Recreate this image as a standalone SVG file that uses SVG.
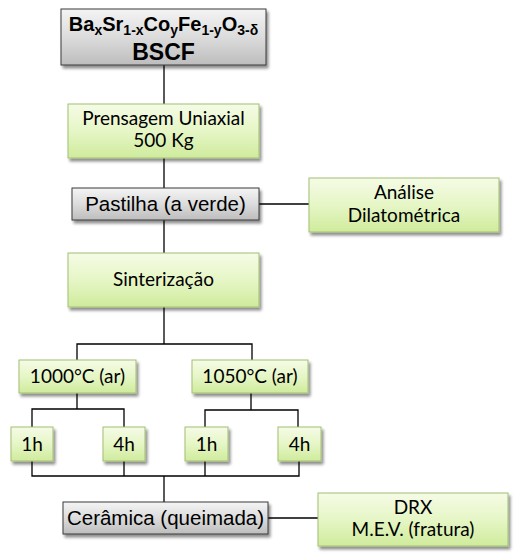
<svg xmlns="http://www.w3.org/2000/svg" width="519" height="555" viewBox="0 0 519 555">
<defs>
<linearGradient id="gGreen" x1="0" y1="0" x2="0" y2="1">
<stop offset="0" stop-color="#f5fbe6"/>
<stop offset="0.5" stop-color="#e6f6c6"/>
<stop offset="1" stop-color="#cfeb9c"/>
</linearGradient>
<linearGradient id="gGray" x1="0" y1="0" x2="0" y2="1">
<stop offset="0" stop-color="#f4f4f4"/>
<stop offset="0.5" stop-color="#dcdcdc"/>
<stop offset="1" stop-color="#bdbdbd"/>
</linearGradient>
<filter id="sh" x="-10%" y="-20%" width="130%" height="160%">
<feGaussianBlur in="SourceAlpha" stdDeviation="1.6"/>
<feOffset dx="2" dy="3" result="b"/>
<feComponentTransfer><feFuncA type="linear" slope="0.45"/></feComponentTransfer>
<feMerge><feMergeNode/><feMergeNode in="SourceGraphic"/></feMerge>
</filter>
</defs>
<style>
.green{fill:url(#gGreen);stroke:#a3bf74;stroke-width:1;filter:url(#sh)}
.gray{fill:url(#gGray);stroke:#3a3a3a;stroke-width:1;filter:url(#sh)}
.tg{font-family:Lato,"Liberation Sans",sans-serif;font-size:19px;fill:#000;text-anchor:middle}
.tk{font-family:"Liberation Sans",Arial,sans-serif;font-size:20.5px;fill:#000;text-anchor:middle}
.tb{font-family:"Liberation Sans",Arial,sans-serif;font-weight:bold;fill:#000;text-anchor:middle}
.con{fill:none;stroke:#000;stroke-width:1.3}
</style>
<rect width="519" height="555" fill="#fff"/>
<g id="connectors" class="con">
<path d="M164 65V104"/>
<path d="M164 158V188"/>
<path d="M259 204H309"/>
<path d="M164 220V253"/>
<path d="M164 307V344"/>
<path d="M77 360V344H252V360"/>
<path d="M77 393V409"/>
<path d="M32 427V409H124V427"/>
<path d="M251 393V410"/>
<path d="M205 427V410H298V427"/>
<path d="M32 461V476H299V461"/>
<path d="M124 461V476"/>
<path d="M205 461V476"/>
<path d="M164 476V502"/>
<path d="M268 518H318"/>
</g>
<g id="n_bscf">
<rect class="gray" x="61" y="9" width="205" height="56"/>
<text class="tb" x="163.5" y="31" font-size="20">Ba<tspan font-size="14" dy="4">x</tspan><tspan dy="-4">Sr</tspan><tspan font-size="14" dy="4">1-x</tspan><tspan dy="-4">Co</tspan><tspan font-size="14" dy="4">y</tspan><tspan dy="-4">Fe</tspan><tspan font-size="14" dy="4">1-y</tspan><tspan dy="-4">O</tspan><tspan font-size="14" dy="4">3-δ</tspan></text>
<text class="tb" x="163.5" y="60" font-size="23">BSCF</text>
</g>
<g id="n_prensagem">
<rect class="green" x="68" y="104" width="191" height="54"/>
<text class="tg" x="163.5" y="125">Prensagem Uniaxial</text>
<text class="tg" x="163.5" y="147">500 Kg</text>
</g>
<g id="n_pastilha">
<rect class="gray" x="72" y="188" width="187" height="32"/>
<text class="tk" x="165.5" y="211">Pastilha (a verde)</text>
</g>
<g id="n_analise">
<rect class="green" x="309" y="178" width="190" height="54"/>
<text class="tg" x="404" y="199">Análise</text>
<text class="tg" x="404" y="222">Dilatométrica</text>
</g>
<g id="n_sinterizacao">
<rect class="green" x="68" y="253" width="191" height="54"/>
<text class="tg" x="163.5" y="286">Sinterização</text>
</g>
<g id="n_1000">
<rect class="green" x="19" y="360" width="117" height="33"/>
<text class="tg" x="77.5" y="383">1000°C (ar)</text>
</g>
<g id="n_1050">
<rect class="green" x="192" y="360" width="116" height="33"/>
<text class="tg" x="250" y="383">1050°C (ar)</text>
</g>
<g id="n_1h_a">
<rect class="green" x="11" y="427" width="42" height="34"/>
<text class="tg" x="32" y="451">1h</text>
</g>
<g id="n_4h_a">
<rect class="green" x="103" y="427" width="42" height="34"/>
<text class="tg" x="124" y="451">4h</text>
</g>
<g id="n_1h_b">
<rect class="green" x="185" y="427" width="43" height="34"/>
<text class="tg" x="206.5" y="451">1h</text>
</g>
<g id="n_4h_b">
<rect class="green" x="278" y="427" width="43" height="34"/>
<text class="tg" x="299.5" y="451">4h</text>
</g>
<g id="n_ceramica">
<rect class="gray" x="63" y="502" width="205" height="32"/>
<text class="tk" x="165.5" y="525" font-size="21">Cerâmica (queimada)</text>
</g>
<g id="n_drx">
<rect class="green" x="318" y="493" width="190" height="53"/>
<text class="tg" x="413" y="514">DRX</text>
<text class="tg" x="413" y="536">M.E.V. (fratura)</text>
</g>
</svg>
